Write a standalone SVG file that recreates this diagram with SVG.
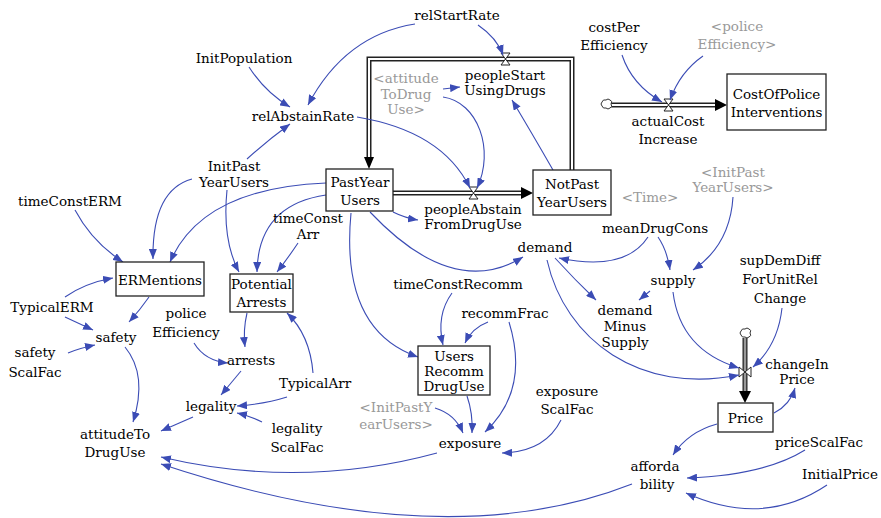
<svg xmlns="http://www.w3.org/2000/svg" width="881" height="518" viewBox="0 0 881 518" font-family="'DejaVu Serif', 'Liberation Serif', serif" font-size="13.5">
<defs>
<style>
text{fill:#000;text-anchor:middle}
text.g{fill:#999}
.c{fill:none;stroke:#3b4cb5;stroke-width:1.1;marker-end:url(#a)}
.box{fill:#fff;stroke:#222;stroke-width:1.3}
.po{fill:none;stroke:#222;stroke-width:5}
.pi{fill:none;stroke:#fff;stroke-width:2}
.pg{fill:none;stroke:#999;stroke-width:2.5}
.v{fill:#fff;stroke:#222;stroke-width:1}
.ah{fill:#000}
.cl{fill:#fff;stroke:#333;stroke-width:1}
</style>
<marker id="a" markerUnits="userSpaceOnUse" markerWidth="11" markerHeight="8" refX="10" refY="4" orient="auto">
<path d="M0,0 L10,4 L0,8 Z" fill="#3b4cb5"/>
</marker>
</defs>
<rect width="881" height="518" fill="#fff"/>

<g id="flows">
<path class="po" d="M393,193 H523"/><path class="pi" d="M393,193 H523"/>
<polygon class="ah" points="521,187 533,193 521,199"/>
<path class="po" d="M572,170 V59 H369 V158"/><path class="pi" d="M572,170 V59 H369 V158"/>
<polygon class="ah" points="364,157 369,169 374,157"/>
<path class="po" d="M608,105 H716"/><path class="pi" d="M608,105 H716"/>
<polygon class="ah" points="715,99 727,105 715,111"/>
<path class="po" d="M745,338 V392"/><path class="pg" d="M745,338 V392"/>
<polygon class="ah" points="739,391 745,403 751,391"/>
<path class="cl" d="M602,102 q1,-3 4,-2 q2,-2 4,0 q3,1 1,4 q2,3 -1,4 q-2,2 -4,0 q-3,1 -4,-2 q-2,-2 0,-4 Z"/>
<path class="cl" d="M741,331 q1,-3 4,-2 q2,-2 4,0 q3,1 1,4 q2,3 -1,4 q-2,2 -4,0 q-3,1 -4,-2 q-2,-2 0,-4 Z"/>
<path class="v" d="M469,187 H478 L469,199 H478 Z"/>
<path class="v" d="M501,53 H510 L501,65 H510 Z"/>
<path class="v" d="M664,99 H673 L664,111 H673 Z"/>
<path class="v" d="M739,367 V377 L751,367 V377 Z"/>
</g>

<g id="connectors">
<path class="c" d="M415,24 Q345,35 308,105"/>
<path class="c" d="M478,25 Q497,38 503,55"/>
<path class="c" d="M249,67 Q265,92 290,107"/>
<path class="c" d="M247,159 Q268,140 290,124"/>
<path class="c" d="M357,117 Q442,131 470,188"/>
<path class="c" d="M443,89 L460,87"/>
<path class="c" d="M443,97 C478,102 495,150 477,188"/>
<path class="c" d="M553,170 Q530,130 512,100"/>
<path class="c" d="M393,212 Q405,218 418,220"/>
<path class="c" d="M326,183 Q202,188 170,262"/>
<path class="c" d="M326,195 Q258,205 257,272"/>
<path class="c" d="M298,243 Q288,258 277,272"/>
<path class="c" d="M192,179 Q152,190 153,259"/>
<path class="c" d="M227,190 Q222,240 239,272"/>
<path class="c" d="M75,210 Q92,242 123,262"/>
<path class="c" d="M65,297 Q85,283 113,278"/>
<path class="c" d="M65,317 Q78,323 93,330"/>
<path class="c" d="M149,297 Q140,310 129,322"/>
<path class="c" d="M68,353 Q80,348 95,345"/>
<path class="c" d="M125,347 Q148,375 133,422"/>
<path class="c" d="M194,343 Q205,361 228,363"/>
<path class="c" d="M247,313 Q243,330 245,347"/>
<path class="c" d="M313,373 Q310,335 287,313"/>
<path class="c" d="M241,371 L221,395"/>
<path class="c" d="M287,397 Q265,404 237,406"/>
<path class="c" d="M262,422 Q250,416 237,413"/>
<path class="c" d="M193,417 L161,431"/>
<path class="c" d="M437,453 Q301,490 161,457"/>
<path class="c" d="M632,484 Q444,558 161,464"/>
<path class="c" d="M351,213 Q340,330 418,357"/>
<path class="c" d="M370,212 Q453,300 523,257"/>
<path class="c" d="M452,293 Q436,315 443,345"/>
<path class="c" d="M488,322 Q472,328 465,343"/>
<path class="c" d="M509,322 Q530,390 485,432"/>
<path class="c" d="M467,396 Q473,413 472,433"/>
<path class="c" d="M435,408 Q455,414 463,433"/>
<path class="c" d="M561,420 Q545,452 502,453"/>
<path class="c" d="M555,258 Q575,280 596,300"/>
<path class="c" d="M547,260 C565,340 640,395 739,375"/>
<path class="c" d="M673,292 Q680,350 739,368"/>
<path class="c" d="M782,308 Q778,345 753,367"/>
<path class="c" d="M650,291 L639,300"/>
<path class="c" d="M658,237 Q667,250 670,270"/>
<path class="c" d="M648,237 Q625,272 559,258"/>
<path class="c" d="M733,197 Q730,245 693,270"/>
<path class="c" d="M622,55 Q632,85 662,102"/>
<path class="c" d="M703,56 Q680,72 670,100"/>
<path class="c" d="M774,413 Q790,405 795,388"/>
<path class="c" d="M717,424 Q688,432 673,455"/>
<path class="c" d="M805,450 Q765,475 687,478"/>
<path class="c" d="M827,485 Q763,528 686,493"/>
</g>

<g id="PastYearUsers"><rect class="box" x="326" y="169" width="67" height="42"/><text x="360" y="187">PastYear</text><text x="360" y="205">Users</text></g>
<g id="NotPastYearUsers"><rect class="box" x="533" y="170" width="78" height="45"/><text x="572" y="189">NotPast</text><text x="572" y="207">YearUsers</text></g>
<g id="ERMentions"><rect class="box" x="116" y="262" width="88" height="34"/><text x="160" y="285">ERMentions</text></g>
<g id="PotentialArrests"><rect class="box" x="230" y="274" width="63" height="38"/><text x="261.5" y="289">Potential</text><text x="261.5" y="307">Arrests</text></g>
<g id="UsersRecommDrugUse"><rect class="box" x="418" y="346" width="72" height="49"/><text x="454" y="361">Users</text><text x="454" y="376">Recomm</text><text x="454" y="391">DrugUse</text></g>
<g id="CostOfPoliceInterventions"><rect class="box" x="727" y="74" width="99" height="56"/><text x="776.5" y="99">CostOfPolice</text><text x="776.5" y="117">Interventions</text></g>
<g id="Price"><rect class="box" x="718" y="403" width="55" height="29"/><text x="745.5" y="423">Price</text></g>

<g id="relStartRate"><text x="457" y="20">relStartRate</text></g>
<g id="InitPopulation"><text x="244" y="63">InitPopulation</text></g>
<g id="relAbstainRate"><text x="303" y="121">relAbstainRate</text></g>
<g id="peopleStartUsingDrugs"><text x="505" y="80">peopleStart</text><text x="505" y="95">UsingDrugs</text></g>
<g id="attitudeToDrugUseShadow"><text class="g" x="406" y="83">&lt;attitude</text><text class="g" x="406" y="99">ToDrug</text><text class="g" x="406" y="114">Use&gt;</text></g>
<g id="costPerEfficiency"><text x="614" y="32">costPer</text><text x="614" y="50">Efficiency</text></g>
<g id="policeEfficiencyShadow"><text class="g" x="737" y="31">&lt;police</text><text class="g" x="737" y="49">Efficiency&gt;</text></g>
<g id="actualCostIncrease"><text x="668" y="126">actualCost</text><text x="668" y="144">Increase</text></g>
<g id="InitPastYearUsersShadow1"><text class="g" x="733" y="177">&lt;InitPast</text><text class="g" x="733" y="192">YearUsers&gt;</text></g>
<g id="TimeShadow"><text class="g" x="650" y="202">&lt;Time&gt;</text></g>
<g id="meanDrugCons"><text x="655" y="233">meanDrugCons</text></g>
<g id="supply"><text x="673" y="285">supply</text></g>
<g id="demand"><text x="545" y="252">demand</text></g>
<g id="demandMinusSupply"><text x="625" y="315">demand</text><text x="625" y="331">Minus</text><text x="625" y="347">Supply</text></g>
<g id="supDemDiffForUnitRelChange"><text x="780" y="265">supDemDiff</text><text x="780" y="284">ForUnitRel</text><text x="780" y="303">Change</text></g>
<g id="changeInPrice"><text x="797" y="369">changeIn</text><text x="797" y="384">Price</text></g>
<g id="priceScalFac"><text x="819" y="447">priceScalFac</text></g>
<g id="InitialPrice"><text x="840" y="479">InitialPrice</text></g>
<g id="affordability"><text x="655" y="471">afforda</text><text x="657" y="489">bility</text></g>
<g id="timeConstERM"><text x="70" y="206">timeConstERM</text></g>
<g id="InitPastYearUsers"><text x="234" y="171">InitPast</text><text x="234" y="187">YearUsers</text></g>
<g id="timeConstArr"><text x="308" y="223">timeConst</text><text x="308" y="239">Arr</text></g>
<g id="TypicalERM"><text x="52" y="312">TypicalERM</text></g>
<g id="policeEfficiency"><text x="186" y="318">police</text><text x="186" y="337">Efficiency</text></g>
<g id="safety"><text x="116" y="342">safety</text></g>
<g id="safetyScalFac"><text x="35" y="357">safety</text><text x="35" y="377">ScalFac</text></g>
<g id="arrests"><text x="251" y="365">arrests</text></g>
<g id="TypicalArr"><text x="315" y="388">TypicalArr</text></g>
<g id="legality"><text x="211" y="411">legality</text></g>
<g id="legalityScalFac"><text x="297" y="433">legality</text><text x="297" y="452">ScalFac</text></g>
<g id="attitudeToDrugUse"><text x="115" y="439">attitudeTo</text><text x="115" y="457">DrugUse</text></g>
<g id="InitPastYearUsersShadow2"><text class="g" x="396" y="412">&lt;InitPastY</text><text class="g" x="396" y="429">earUsers&gt;</text></g>
<g id="exposure"><text x="470" y="448">exposure</text></g>
<g id="exposureScalFac"><text x="567" y="396">exposure</text><text x="567" y="414">ScalFac</text></g>
<g id="timeConstRecomm"><text x="458" y="289">timeConstRecomm</text></g>
<g id="recommFrac"><text x="505" y="318">recommFrac</text></g>
<g id="peopleAbstainFromDrugUse"><text x="473" y="214">peopleAbstain</text><text x="473" y="229">FromDrugUse</text></g>
</svg>
